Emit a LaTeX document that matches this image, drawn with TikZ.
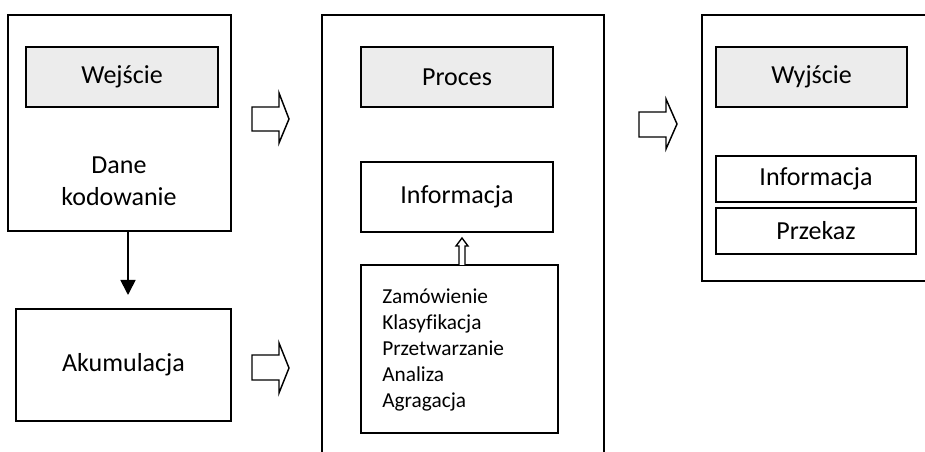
\documentclass[tikz,border=0pt]{standalone}
\usepackage{fontspec}
\setmainfont[Ligatures=NoCommon]{Carlito}
\usetikzlibrary{arrows.meta}
\newdimen\px
\px=0.75pt
\tikzset{
  frame/.style={draw, line width=1.3pt, inner sep=0pt, minimum width=#1},
  head/.style={draw, line width=1.3pt, fill=gray!15, inner sep=0pt},
  plain/.style={draw, line width=1.3pt, fill=white, inner sep=0pt},
  lbl/.style={font=\fontsize{19.5pt}{24pt}\selectfont},
  small/.style={font=\fontsize{16pt}{19.5pt}\selectfont},
  blockarrow/.style={draw, line width=1.1pt, fill=white, line join=miter},
  flow/.style={line width=1.3pt, -{Triangle[width=11.25pt,length=11.25pt]}}
}
\begin{document}
\begin{tikzpicture}[x=0.75pt, y=-0.75pt]
\clip (0,0) rectangle (925,452);
\fill[white] (0,0) rectangle (925,452);

% --- input column ---
\node[frame=223\px, minimum height=216\px] (inbox) at (119.5,123) {};
\node[head, minimum width=192\px, minimum height=60\px, lbl] (wej) at (122,77) {Wejście};
\node[lbl, align=center] (dane) at (119,181) {Dane\\kodowanie};
\node[plain, minimum width=215\px, minimum height=112\px, lbl] (akum) at (123.5,365) {Akumulacja};
\coordinate (down) at (128,295);
\draw[flow] (inbox.south -| down) -- (down);

% --- process column ---
\node[frame=282\px, minimum height=480\px] (procbox) at (463,255) {};
\node[head, minimum width=192\px, minimum height=60\px, lbl] (proc) at (457,77) {Proces};
\node[plain, minimum width=192\px, minimum height=70\px, lbl] (info) at (457,197) {Informacja};
\node[plain, minimum width=197\px, minimum height=168\px] (ops) at (459.5,349) {};
\node[small, align=left, anchor=north west, inner sep=0pt] (opslist) at (382,289)
  {Zamówienie\\Klasyfikacja\\Przetwarzanie\\Analiza\\Agragacja};

% hollow arrow from the operations list up to the information box
\draw[line width=1pt, fill=white, line join=miter]
  (459,265) -- (459,246) -- (456,246) -- (462,238) -- (468,246) -- (465,246) -- (465,265);

% --- output column ---
\node[frame=240\px, minimum height=266\px] (outbox) at (822,148) {};
\node[head, minimum width=191\px, minimum height=60\px, lbl] (wyj) at (811.5,77) {Wyjście};
\node[plain, minimum width=200\px, minimum height=46\px, lbl] (info2) at (816,179) {Informacja};
\node[plain, minimum width=200\px, minimum height=46\px, lbl] (przekaz) at (816,231) {Przekaz};

% --- block arrows between the columns ---
\draw[blockarrow] (252,107) -- (279,107) -- (279,93) -- (289,119) -- (279,143) -- (279,131) -- (252,131) -- cycle;
\draw[blockarrow] (252,355) -- (279,355) -- (279,343) -- (289,368) -- (279,393) -- (279,380) -- (252,380) -- cycle;
\draw[blockarrow] (639,112) -- (666,112) -- (666,99) -- (677,124) -- (666,149) -- (666,137) -- (639,137) -- cycle;
\end{tikzpicture}
\end{document}
